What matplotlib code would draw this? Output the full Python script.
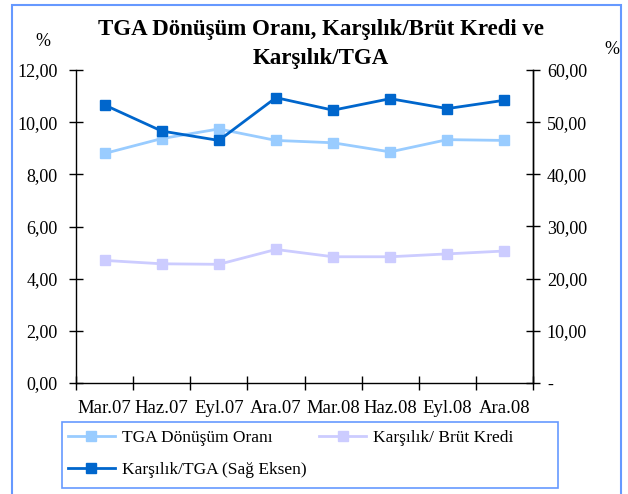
import matplotlib.pyplot as plt
from matplotlib.patches import Rectangle
from matplotlib.ticker import FuncFormatter, FixedLocator

plt.rcParams['font.family'] = ['Liberation Serif', 'DejaVu Serif']

donemler = ['Mar.07', 'Haz.07', 'Eyl.07', 'Ara.07', 'Mar.08', 'Haz.08', 'Eyl.08', 'Ara.08']
tga_donusum = [8.80, 9.37, 9.74, 9.30, 9.21, 8.86, 9.33, 9.30]
karsilik_brut = [4.70, 4.57, 4.55, 5.12, 4.84, 4.84, 4.95, 5.06]
karsilik_tga = [53.3, 48.3, 46.5, 54.7, 52.3, 54.5, 52.6, 54.2]

W, H = 628, 494
fig = plt.figure(figsize=(W / 100, H / 100), dpi=100)
ax = fig.add_axes([76 / W, 1 - 383 / H, (533 - 76) / W, (383 - 70) / H])
ax2 = ax.twinx()

x = list(range(len(donemler)))
l1, = ax.plot(x, tga_donusum, color='#99CCFF', lw=2, marker='s', ms=7,
              label='TGA Dönüşüm Oranı')
l2, = ax.plot(x, karsilik_brut, color='#CCCCFF', lw=2, marker='s', ms=7,
              label='Karşılık/ Brüt Kredi')
l3, = ax2.plot(x, karsilik_tga, color='#0066CC', lw=2, marker='s', ms=7,
               label='Karşılık/TGA (Sağ Eksen)')

ax.set_xlim(-0.5, len(donemler) - 0.5)
ax.set_ylim(0, 12)
ax2.set_ylim(0, 60)
ax.set_yticks([0, 2, 4, 6, 8, 10, 12])
ax2.set_yticks([0, 10, 20, 30, 40, 50, 60])

fmt = lambda v, p: '{:.2f}'.format(v).replace('.', ',')
ax.yaxis.set_major_formatter(FuncFormatter(fmt))
ax2.yaxis.set_major_formatter(FuncFormatter(lambda v, p: '-' if v == 0 else fmt(v, p)))

ax.set_xticks(x)
ax.set_xticklabels(donemler)
ax.xaxis.set_minor_locator(FixedLocator([i - 0.5 for i in range(len(donemler) + 1)]))
ax.tick_params(axis='x', which='major', length=0, pad=12, labelsize=13.5)
ax.tick_params(axis='x', which='minor', direction='inout', length=10, width=1)
ax.tick_params(axis='y', direction='inout', length=10, width=1, pad=8, labelsize=13)
ax2.tick_params(axis='y', direction='inout', length=10, width=1, pad=5, labelsize=13)

for a in (ax, ax2):
    a.spines['top'].set_visible(False)
    for s in a.spines.values():
        s.set_linewidth(1)
ax2.spines['left'].set_visible(False)
ax2.spines['bottom'].set_visible(False)

fig.text(321 / W, 1 - 44 / H, 'TGA Dönüşüm Oranı, Karşılık/Brüt Kredi ve\nKarşılık/TGA',
         ha='center', va='center', fontsize=16.5, fontweight='bold', linespacing=1.5)
fig.text(43 / W, 1 - 42 / H, '%', ha='center', va='center', fontsize=13)
fig.text(612 / W, 1 - 50 / H, '%', ha='center', va='center', fontsize=13)

# legend box drawn by hand, legend itself without frame
leg = fig.legend([l1, l3, l2], [l1.get_label(), l3.get_label(), l2.get_label()],
                 loc='upper left', ncol=2, frameon=False,
                 bbox_to_anchor=(68 / W, 1 - 430 / H),
                 borderaxespad=0, borderpad=0, fontsize=12.5, handlelength=2.7,
                 handletextpad=0.4, labelspacing=0.9, columnspacing=0.75)
fig.patches.append(Rectangle((62 / W, 1 - 488 / H), (558 - 62) / W, (488 - 422) / H,
                             transform=fig.transFigure, fill=False,
                             edgecolor='#6699FF', lw=1.2))

fig.patches.append(Rectangle((12 / W, -0.1), (621 - 12) / W, 1.1 - 5 / H,
                             transform=fig.transFigure, fill=False,
                             edgecolor='#6699FF', lw=1.5))

fig.savefig('out.png', dpi=100)
